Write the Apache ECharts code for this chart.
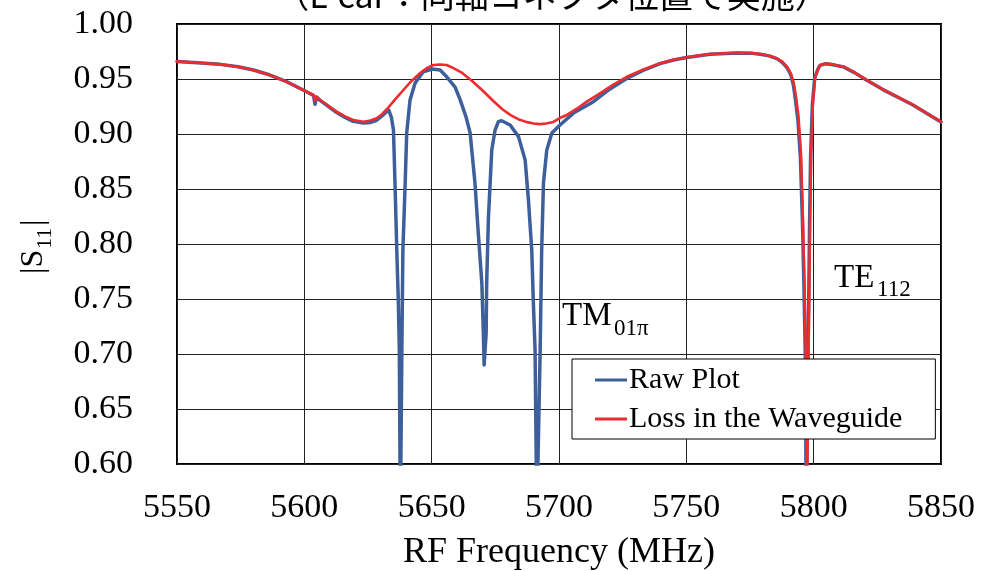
<!DOCTYPE html>
<html lang="ja" style="height: 100%;width: 100%">
<head>
    <meta charset="utf-8">
</head>
<body style="height: 100%;width: 100%; margin: 0; background: #fff">
<div id="container" style="width: 984px;height: 571px;"></div>
<script type="text/javascript" src="https://cdn.jsdelivr.net/npm/echarts@6/dist/echarts.min.js"></script>
<script type="text/javascript">
// 軸目盛り
var xTicks = [5550, 5600, 5650, 5700, 5750, 5800, 5850];
var yTicks = [0.60, 0.65, 0.70, 0.75, 0.80, 0.85, 0.90, 0.95, 1.00];

var seriesNames = ['Raw Plot', 'Loss in the Waveguide'];

// Raw Plot (blue)
var rawFreq = [
    5550, 5558, 5567, 5574, 5580, 5586.5, 5593, 5600.3, 5603.6, 5604.2, 5604.8, 5606.2,
    5609.5, 5612.7, 5616, 5619.2, 5623.2, 5626, 5628.4, 5630.5, 5632.4, 5633.2, 5634.2,
    5635.0, 5635.6, 5636.3, 5636.9, 5637.3, 5637.7, 5638.3, 5638.7, 5639.6, 5640.2, 5641.5,
    5643.5, 5646.7, 5650.2, 5653.3, 5655.9, 5659.2, 5661.2, 5663.5, 5665.1, 5667.0, 5668.3,
    5669.7, 5670.3, 5670.6, 5671.4, 5671.6, 5672.3, 5673.6, 5674.9, 5676.2, 5677.5, 5680.8,
    5684.1, 5686.7, 5688.0, 5689.3, 5689.9, 5690.6, 5691.3, 5692.6, 5693.2, 5693.9, 5695.2,
    5697.2, 5700.4, 5705.7, 5713.5, 5720, 5726.6, 5733, 5739.7, 5745, 5750.2, 5759.3,
    5769.8, 5776, 5779, 5782.5, 5785.5, 5787.5, 5789.5, 5791, 5792, 5792.8, 5793.8, 5794.8,
    5795.6, 5796.2, 5796.7, 5797.1, 5797.8, 5798.4, 5798.8, 5799.5, 5800.4, 5801.7, 5802.5,
    5804.5, 5806.5, 5811.7, 5816, 5820.9, 5827, 5834, 5839, 5844.5, 5850
];
var rawS11 = [
    0.9660, 0.9648, 0.9633, 0.9612, 0.9582, 0.9536, 0.9476, 0.9391, 0.9350, 0.9270, 0.9335, 0.9305,
    0.9250, 0.9195, 0.9150, 0.9115, 0.9100, 0.9105, 0.9125, 0.9165, 0.9205, 0.9215, 0.9150,
    0.9036, 0.8555, 0.7945, 0.7490, 0.7036, 0.55, 0.7036, 0.7945, 0.8555, 0.9010, 0.9310,
    0.9464, 0.9566, 0.9590, 0.9582, 0.9520, 0.9427, 0.9310, 0.9155, 0.9010, 0.8555, 0.8100,
    0.7645, 0.7190, 0.6900, 0.7190, 0.7645, 0.8245, 0.8855, 0.9036, 0.9112, 0.9120, 0.9082,
    0.8976, 0.8764, 0.8400, 0.7945, 0.7490, 0.7036, 0.55, 0.7036, 0.7945, 0.8555, 0.8855,
    0.9010, 0.9082, 0.9190, 0.9294, 0.9410, 0.9505, 0.9578, 0.9640, 0.9673, 0.9695, 0.9725,
    0.9737, 0.9733, 0.9725, 0.9710, 0.9685, 0.9655, 0.9605, 0.9540, 0.9450, 0.9320, 0.9130, 0.8780,
    0.8200, 0.7600, 0.7000, 0.55, 0.7000, 0.8200, 0.8810, 0.9270, 0.9510, 0.9592, 0.9624,
    0.9638, 0.9634, 0.9610, 0.9558, 0.9488, 0.9406, 0.9323, 0.9263, 0.9186, 0.9110
];

// Loss in the Waveguide (red)
var lossFreq = [
    5550, 5558, 5567, 5574, 5580, 5586.5, 5593, 5600.3, 5603.6, 5604.2, 5604.8, 5606.2,
    5609.5, 5612.7, 5616, 5619.2, 5623.2, 5626, 5628.4, 5630.5, 5632.4, 5635.5, 5638.9,
    5642, 5645.4, 5648, 5650.7, 5653.3, 5655.9, 5658, 5662, 5666, 5670, 5674.2, 5678,
    5681, 5684, 5687.4, 5690, 5692.6, 5695, 5697.8, 5700.3, 5703.1, 5707, 5710.9, 5716.1,
    5721, 5726.6, 5733, 5739.7, 5745, 5750.2, 5759.3, 5769.8, 5776, 5779, 5782.5, 5785.5,
    5787.5, 5789.5, 5791, 5792.1, 5793, 5794, 5795, 5795.8, 5796.4, 5796.9, 5797.3, 5798,
    5798.6, 5799, 5799.7, 5800.6, 5801.9, 5802.6, 5804.5, 5806.5, 5811.7, 5816, 5820.9,
    5827, 5834, 5839, 5844.5, 5850
];
var lossS11 = [
    0.9660, 0.9648, 0.9633, 0.9612, 0.9582, 0.9536, 0.9476, 0.9391, 0.9355, 0.9300, 0.9340, 0.9309,
    0.9255, 0.9203, 0.9160, 0.9127, 0.9112, 0.9122, 0.9143, 0.9180, 0.9225, 0.9310, 0.9400,
    0.9480, 0.9552, 0.9598, 0.9627, 0.9632, 0.9627, 0.9605, 0.9555, 0.9480, 0.9395, 0.9300, 0.9220,
    0.9172, 0.9135, 0.9108, 0.9095, 0.9090, 0.9095, 0.9110, 0.9145, 0.9173, 0.9230, 0.9294, 0.9370,
    0.9445, 0.9520, 0.9585, 0.9643, 0.9675, 0.9697, 0.9727, 0.9739, 0.9735, 0.9727, 0.9712, 0.9688,
    0.9660, 0.9612, 0.9550, 0.9470, 0.9350, 0.9170, 0.8825, 0.8218, 0.7612, 0.7009, 0.55, 0.7009,
    0.8218, 0.8827, 0.9282, 0.9520, 0.9597, 0.9627, 0.9640, 0.9636, 0.9612, 0.9560, 0.9490,
    0.9408, 0.9325, 0.9265, 0.9188, 0.9112
];

function pairs(xs, ys) {
    var out = [];
    for (var i = 0; i < xs.length; i++) out.push([xs[i], ys[i]]);
    return out;
}

var serif = '"Liberation Serif", "Times New Roman", serif';

var myChart = echarts.init(document.getElementById('container'), null, {renderer: 'canvas'});

var option = {
    animation: false,
    backgroundColor: '#ffffff',
    grid: {
        left: 177,
        right: 43,
        top: 24,
        bottom: 107,
        show: true,
        borderColor: '#000',
        borderWidth: 2,
        containLabel: false,
        outerBoundsMode: 'none'
    },
    legend: {
        data: [
            {name: seriesNames[0], icon: 'rect'},
            {name: seriesNames[1], icon: 'rect'}
        ],
        orient: 'vertical',
        left: 572,
        top: 359,
        itemWidth: 32,
        itemHeight: 3,
        itemGap: 9,
        padding: [6, 33, 5, 23],
        backgroundColor: '#fff',
        borderColor: '#000',
        borderWidth: 1,
        borderRadius: 0,
        textStyle: {
            fontFamily: serif,
            fontSize: 30,
            lineHeight: 28,
            color: '#000',
            padding: [0, 0, 0, -3]
        }
    },
    xAxis: {
        type: 'value',
        min: xTicks[0],
        max: xTicks[xTicks.length - 1],
        interval: 50,
        name: 'RF Frequency (MHz)',
        nameLocation: 'middle',
        nameGap: 71,
        nameTextStyle: {fontFamily: serif, fontSize: 36, color: '#000'},
        axisLine: {show: false},
        axisTick: {show: false},
        axisLabel: {
            margin: 27,
            fontFamily: serif,
            fontSize: 34,
            color: '#000',
            formatter: function (v) { return String(v); }
        },
        splitLine: {show: true, lineStyle: {color: '#222', width: 1}}
    },
    yAxis: {
        type: 'value',
        min: yTicks[0],
        max: yTicks[yTicks.length - 1],
        interval: 0.05,
        axisLine: {show: false},
        axisTick: {show: false},
        axisLabel: {
            margin: 44,
            fontFamily: serif,
            fontSize: 34,
            color: '#000',
            formatter: function (v) { return v.toFixed(2); }
        },
        splitLine: {show: true, lineStyle: {color: '#222', width: 1}}
    },
    series: [
        {
            name: seriesNames[0],
            type: 'line',
            data: pairs(rawFreq, rawS11),
            symbol: 'none',
            clip: true,
            color: '#3D5F9B',
            lineStyle: {color: '#3D5F9B', width: 3.5, join: 'round', cap: 'round'}
        },
        {
            name: seriesNames[1],
            type: 'line',
            data: pairs(lossFreq, lossS11),
            symbol: 'none',
            clip: true,
            color: '#EE2B2E',
            lineStyle: {color: '#EE2B2E', width: 2.6, join: 'round', cap: 'round'}
        }
    ],
    graphic: [
        // タイトル (上端で切れている)
        {
            type: 'text', x: 552, y: -5,
            style: {
                text: '（L-car：同軸コネクタ位置で実施）',
                font: '34px "Noto Sans CJK JP", sans-serif',
                fill: '#000', align: 'center', verticalAlign: 'middle'
            }
        },
        // |S11|
        {
            type: 'group', x: 34, y: 242, rotation: Math.PI / 2,
            children: [
                {type: 'text', x: -32, y: 0, style: {text: '|S', font: '32px ' + serif, fill: '#000', align: 'left', verticalAlign: 'middle'}},
                {type: 'text', x: -7, y: 11, style: {text: '11', font: '22px ' + serif, fill: '#000', align: 'left', verticalAlign: 'middle'}},
                {type: 'text', x: 16, y: 0, style: {text: '|', font: '32px ' + serif, fill: '#000', align: 'left', verticalAlign: 'middle'}}
            ]
        },
        // TM01π
        {type: 'text', x: 562, y: 316, style: {text: 'TM', font: '33px ' + serif, fill: '#000', align: 'left', verticalAlign: 'middle'}},
        {type: 'text', x: 614, y: 329, style: {text: '01π', font: '23px ' + serif, fill: '#000', align: 'left', verticalAlign: 'middle'}},
        // TE112
        {type: 'text', x: 834, y: 278, style: {text: 'TE', font: '33px ' + serif, fill: '#000', align: 'left', verticalAlign: 'middle'}},
        {type: 'text', x: 877, y: 290, style: {text: '112', font: '23px ' + serif, fill: '#000', align: 'left', verticalAlign: 'middle'}}
    ]
};

myChart.setOption(option);
</script>
</body>
</html>
